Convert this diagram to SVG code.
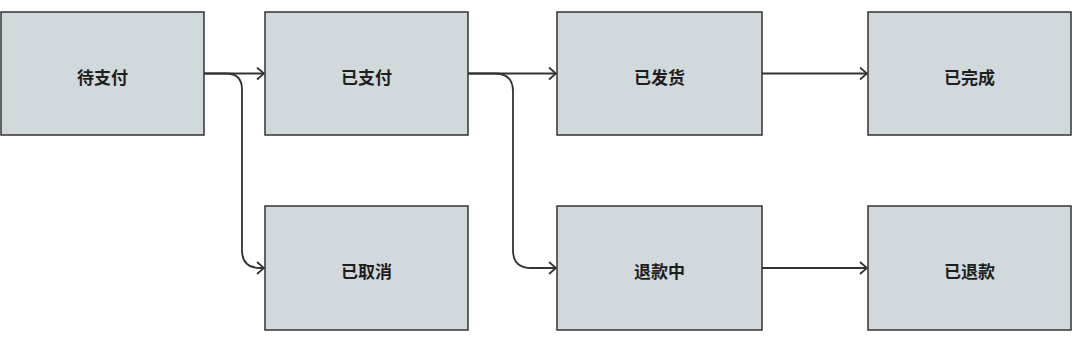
<svg xmlns="http://www.w3.org/2000/svg" width="1080" height="340" viewBox="0 0 1080 340">
<defs>
<marker id="arr" viewBox="0 0 10 14" refX="9" refY="7" markerWidth="10" markerHeight="14" markerUnits="userSpaceOnUse" orient="auto">
<path d="M2,1 L9,7 L2,13" fill="none" stroke="#333" stroke-width="1.8"/>
</marker>
</defs>
<style>
.n rect{fill:#d1d9dc;stroke:#333;stroke-width:1.5}
.n text{font-family:"Noto Sans CJK SC","Noto Sans",sans-serif;font-size:17px;font-weight:bold;fill:#1e1e1e;text-anchor:middle;dominant-baseline:central}
.c path{fill:none;stroke:#333;stroke-width:1.8;marker-end:url(#arr)}
</style>
<rect width="1080" height="340" fill="#fff"/>
<g id="n1" class="n"><rect x="1" y="12" width="203" height="123"/><text x="102.5" y="76">待支付</text></g>
<g id="n2" class="n"><rect x="265" y="12" width="203" height="123"/><text x="366.5" y="76">已支付</text></g>
<g id="n3" class="n"><rect x="557" y="12" width="205" height="123"/><text x="659.5" y="76">已发货</text></g>
<g id="n4" class="n"><rect x="868" y="12" width="203" height="123"/><text x="969.5" y="76">已完成</text></g>
<g id="n5" class="n"><rect x="265" y="206" width="203" height="124"/><text x="366.5" y="270">已取消</text></g>
<g id="n6" class="n"><rect x="557" y="206" width="205" height="124"/><text x="659.5" y="270">退款中</text></g>
<g id="n7" class="n"><rect x="868" y="206" width="203" height="124"/><text x="969.5" y="270">已退款</text></g>
<g id="connectors" class="c">
<path d="M204,73.5 H264"/>
<path d="M204,73.5 H226 Q242,73.5 242,89.5 V250 Q242,268 260,268 H264"/>
<path d="M468,73.5 H556"/>
<path d="M468,73.5 H495 Q513,73.5 513,91.5 V250 Q513,268 531,268 H556"/>
<path d="M762,73.5 H867"/>
<path d="M762,268 H867"/>
</g>
</svg>
